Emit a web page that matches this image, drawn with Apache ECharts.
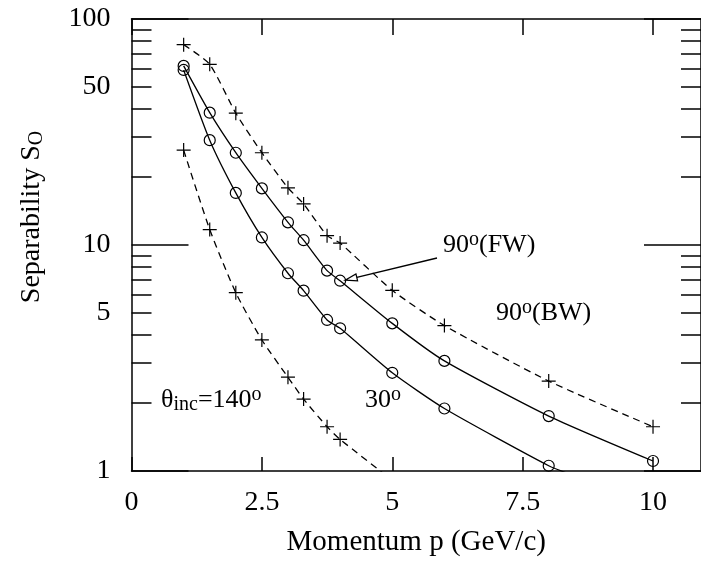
<!DOCTYPE html>
<html>
<head>
<meta charset="utf-8">
<script src="https://cdn.jsdelivr.net/npm/echarts@6/dist/echarts.min.js"></script>
<style>
  html, body { margin: 0; padding: 0; background: #fff; }
  #chart { width: 701px; height: 562px; }
</style>
</head>
<body>
<div id="chart"></div>
<script>
// momentum points (GeV/c) where the markers sit
var momentum = [1, 1.5, 2, 2.5, 3, 3.3, 3.75, 4, 5, 6, 8, 10];
// separability values
var bw90 = [77, 63, 38.3, 25.6, 17.9, 15.2, 11.0, 10.2, 6.3, 4.4, 2.5, 1.57];
var fw90 = [62, 38.5, 25.6, 17.8, 12.6, 10.5, 7.7, 6.95, 4.5, 3.07, 1.75, 1.107];
var deg30 = [59.5, 29.1, 17.0, 10.8, 7.5, 6.28, 4.66, 4.28, 2.72, 1.89, 1.055];
var deg140 = [26.3, 11.7, 6.15, 3.8, 2.6, 2.08, 1.57, 1.38];
// where the curves run on past the last marker (no marker)
var deg30Tail = [8.5, 0.95];
var deg140Tail = [5.0, 0.91];

var xTicks = [0, 2.5, 5, 7.5, 10];
var yLabels = [1, 5, 10, 50, 100];
var yMajor = [1, 10, 100];
var yMinor = [2, 3, 4, 5, 6, 7, 8, 9, 20, 30, 40, 50, 60, 70, 80, 90];

var font = 'Liberation Serif';
var plus = 'path://M5,0L5,10M0,5L10,5';

function pairs (ys, tail) {
  var d = ys.map(function (y, i) { return [momentum[i], y]; });
  if (tail) d.push({ value: tail, symbol: 'none' });
  return d;
}

function curve (data, dashed, symbol, size) {
  return {
    type: 'line',
    data: data,
    smooth: 0.2,
    symbol: symbol,
    symbolSize: size,
    showAllSymbol: true,
    clip: true,
    lineStyle: { color: '#000', width: 1.3, type: dashed ? [7, 5] : 'solid' },
    itemStyle: { color: 'transparent', borderColor: '#000', borderWidth: 1.2 },
    emphasis: { disabled: true }
  };
}

function xAx (pos, tickLen, showLabel) {
  return {
    type: 'value', position: pos, min: 0, max: 10.92, interval: 2.5,
    axisLine: { lineStyle: { color: '#000', width: 1.5 } },
    axisTick: { inside: true, length: tickLen, customValues: xTicks, lineStyle: { color: '#000', width: 1.5 } },
    axisLabel: { show: showLabel, customValues: xTicks, color: '#000', fontFamily: font, fontSize: 28, margin: 18 },
    splitLine: { show: false }
  };
}

function yAx (pos, ticks, tickLen, showLine, labels) {
  return {
    type: 'log', logBase: 10, position: pos, min: 1, max: 100,
    axisLine: { show: showLine, lineStyle: { color: '#000', width: 1.5 } },
    axisTick: { inside: true, length: tickLen, customValues: ticks, lineStyle: { color: '#000', width: 1.5 } },
    axisLabel: labels ? { customValues: labels, color: '#000', fontFamily: font, fontSize: 28, margin: 21 } : { show: false },
    splitLine: { show: false },
    minorTick: { show: false }
  };
}

var chart = echarts.init(document.getElementById('chart'));
var xb = xAx('bottom', 14, true);
xb.name = 'Momentum p (GeV/c)';
xb.nameLocation = 'middle';
xb.nameGap = 57;
xb.nameTextStyle = { color: '#000', fontFamily: font, fontSize: 29 };

var option = {
  animation: false,
  grid: { left: 131.5, right: -4, top: 19, bottom: 91 },
  xAxis: [xb, xAx('top', 16, false)],
  yAxis: [
    yAx('left', yMajor, 57, true, yLabels),
    yAx('left', yMinor, 20, false, null),
    yAx('right', yMajor, 57, true, null),
    yAx('right', yMinor, 20, false, null)
  ],
  series: [
    curve(pairs(bw90), true, plus, 14),
    curve(pairs(fw90), false, 'circle', 11),
    curve(pairs(deg30, deg30Tail), false, 'circle', 11),
    curve(pairs(deg140, deg140Tail), true, plus, 14)
  ]
};
chart.setOption(option);

// annotations
var rich = {
  n: { fontFamily: font, fontSize: 26, lineHeight: 30, fill: '#000' },
  s: { fontFamily: font, fontSize: 20, lineHeight: 18, verticalAlign: 'top', fill: '#000' },
  b: { fontFamily: font, fontSize: 20, lineHeight: 20, verticalAlign: 'bottom', padding: [10, 0, 0, 0], fill: '#000' }
};
function label (x, y, text) {
  return { type: 'text', x: x, y: y, style: { text: text, rich: rich, fill: '#000', verticalAlign: 'middle', align: 'left' } };
}

var tip = chart.convertToPixel({ gridIndex: 0 }, [momentum[7], fw90[7]]);
tip = [tip[0] + 5, tip[1] - 0.5];
var start = [437, 258];
var dx = start[0] - tip[0], dy = start[1] - tip[1];
var len = Math.sqrt(dx * dx + dy * dy);
var ux = dx / len, uy = dy / len;
var bx = tip[0] + ux * 12, by = tip[1] + uy * 12;
var head = [tip, [bx - uy * 3.5, by + ux * 3.5], [bx + uy * 3.5, by - ux * 3.5]];

chart.setOption({
  graphic: [
    label(443, 245, '{n|90}{s|o}{n|(FW)}'),
    label(496, 313, '{n|90}{s|o}{n|(BW)}'),
    label(161, 400, '{n|θ}{b|inc}{n|=140}{s|o}'),
    label(365, 400, '{n|30}{s|o}'),
    { type: 'line', shape: { x1: start[0], y1: start[1], x2: bx, y2: by }, style: { stroke: '#000', lineWidth: 1.3 } },
    { type: 'polygon', shape: { points: head }, style: { fill: '#fff', stroke: '#000', lineWidth: 1.2 } },
    {
      type: 'text', x: 32, y: 217, rotation: Math.PI / 2,
      style: {
        text: '{t|Separability S}{u|O}', align: 'center', verticalAlign: 'middle',
        rich: {
          t: { fontFamily: font, fontSize: 28, lineHeight: 30, fill: '#000' },
          u: { fontFamily: font, fontSize: 20, lineHeight: 20, verticalAlign: 'bottom', padding: [10, 0, 0, 0], fill: '#000' }
        }
      }
    }
  ]
});
</script>
</body>
</html>
